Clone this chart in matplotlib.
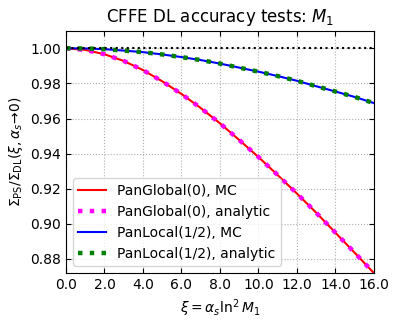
import matplotlib
matplotlib.use('Agg')
import matplotlib.pyplot as plt
import numpy as np

# values
xi = [0, 1, 2, 3, 4, 5, 6, 7, 8, 9, 10, 11, 12, 13, 14, 15, 16]
panglobal = [1.0000, 0.9991, 0.9966, 0.9928, 0.9876, 0.9812, 0.9740, 0.9660, 0.9573,
             0.9478, 0.9381, 0.9278, 0.9173, 0.9064, 0.8950, 0.8836, 0.8720]
panlocal = [1.0000, 0.9999, 0.9995, 0.9987, 0.9978, 0.9965, 0.9950, 0.9933, 0.9913,
            0.9890, 0.9867, 0.9842, 0.9815, 0.9784, 0.9754, 0.9723, 0.9688]
x_ticks = [0, 2, 4, 6, 8, 10, 12, 14, 16]
y_ticks = [0.88, 0.90, 0.92, 0.94, 0.96, 0.98, 1.00]


def plot_graph():
    fig = plt.figure(figsize=(3.99, 3.27), dpi=100)
    ax = fig.add_axes([0.1654, 0.165, 0.7716, 0.741])

    ax.plot(xi, panglobal, color='r', lw=1.5, label='PanGlobal(0), MC')
    ax.plot(xi, panglobal, color='magenta', lw=3.2, linestyle=':',
            label='PanGlobal(0), analytic')
    ax.plot(xi, panlocal, color='b', lw=1.5, label='PanLocal(1/2), MC')
    ax.plot(xi, panlocal, color='green', lw=3.2, linestyle=':',
            label='PanLocal(1/2), analytic')
    ax.axhline(1.0, color='k', linestyle=':', lw=1.5)

    ax.set_xlim(0, 16)
    ax.set_ylim(0.872, 1.01)
    ax.set_xticks(x_ticks)
    ax.set_yticks(y_ticks)
    ax.set_xticklabels(['%.1f' % v for v in x_ticks])
    ax.set_yticklabels(['%.2f' % v for v in y_ticks])
    ax.tick_params(direction='in', top=True, right=True, labelsize=10)
    ax.grid(linestyle=':', color='#b0b0b0', lw=0.8)

    ax.set_title(r'CFFE DL accuracy tests: $M_1$', fontsize=12)
    ax.set_xlabel(r'$\xi = \alpha_s \ln^2 M_1$', fontsize=10)
    ax.set_ylabel(r'$\Sigma_{\rm PS}/\Sigma_{\rm DL}(\xi, \alpha_s\!\to\!0)$', fontsize=10)
    ax.legend(loc='lower left', fontsize=10)

    fig.savefig('out.png', dpi=100)


if __name__ == '__main__':
    plot_graph()
